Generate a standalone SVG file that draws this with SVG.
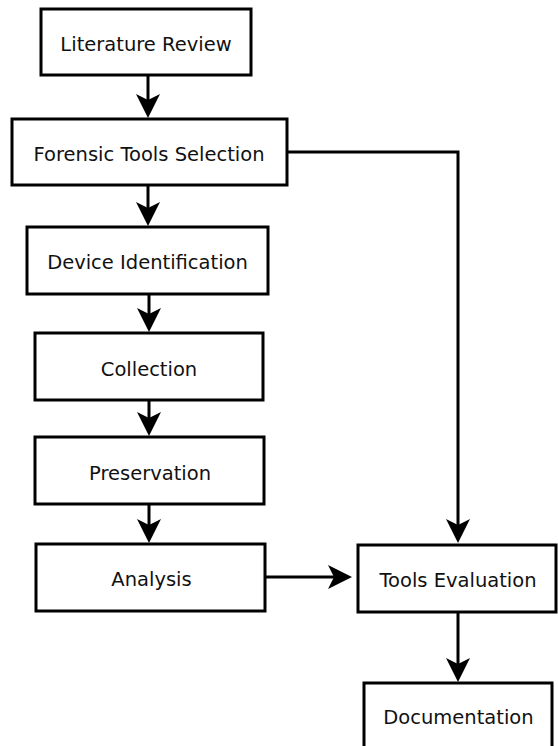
<svg xmlns="http://www.w3.org/2000/svg" width="558" height="746" viewBox="0 0 558 746">
<style>
.box{fill:#fff;stroke:#000;stroke-width:3}
.lbl{font-family:"DejaVu Sans","Verdana",sans-serif;font-size:19.5px;fill:#111;text-anchor:middle}
.edge{fill:none;stroke:#000;stroke-width:3}
</style>
<defs>
<marker id="arr" markerUnits="userSpaceOnUse" viewBox="-25 -13 26 26" refX="-18" refY="0" markerWidth="26" markerHeight="26" orient="auto">
<path d="M0,0 L-24,-12 L-18,0 L-24,12 Z" fill="#000"/>
</marker>
</defs>
<rect width="558" height="746" fill="#fff"/>
<g id="connectors">
<path class="edge" d="M148,75 V100" marker-end="url(#arr)"/>
<path class="edge" d="M148,185 V208" marker-end="url(#arr)"/>
<path class="edge" d="M149,294 V314" marker-end="url(#arr)"/>
<path class="edge" d="M149,400 V418" marker-end="url(#arr)"/>
<path class="edge" d="M149,504 V525" marker-end="url(#arr)"/>
<path class="edge" d="M287,152 H458 V525" marker-end="url(#arr)"/>
<path class="edge" d="M265,577 H334" marker-end="url(#arr)"/>
<path class="edge" d="M458,612 V664" marker-end="url(#arr)"/>
</g>
<g id="literature-review">
<rect class="box" x="41" y="9" width="210" height="66"/>
<text class="lbl" x="146" y="51">Literature Review</text>
</g>
<g id="forensic-tools-selection">
<rect class="box" x="12" y="119" width="275" height="66"/>
<text class="lbl" x="149" y="161">Forensic Tools Selection</text>
</g>
<g id="device-identification">
<rect class="box" x="27" y="227" width="241" height="67"/>
<text class="lbl" x="147.5" y="269">Device Identification</text>
</g>
<g id="collection">
<rect class="box" x="35" y="333" width="228" height="67"/>
<text class="lbl" x="149" y="376">Collection</text>
</g>
<g id="preservation">
<rect class="box" x="35" y="437" width="229" height="67"/>
<text class="lbl" x="150" y="480">Preservation</text>
</g>
<g id="analysis">
<rect class="box" x="36" y="544" width="229" height="67"/>
<text class="lbl" x="151.5" y="586">Analysis</text>
</g>
<g id="tools-evaluation">
<rect class="box" x="358" y="545" width="198" height="67"/>
<text class="lbl" x="458" y="587">Tools Evaluation</text>
</g>
<g id="documentation">
<rect class="box" x="364" y="683" width="188" height="67"/>
<text class="lbl" x="458.5" y="724">Documentation</text>
</g>
</svg>
